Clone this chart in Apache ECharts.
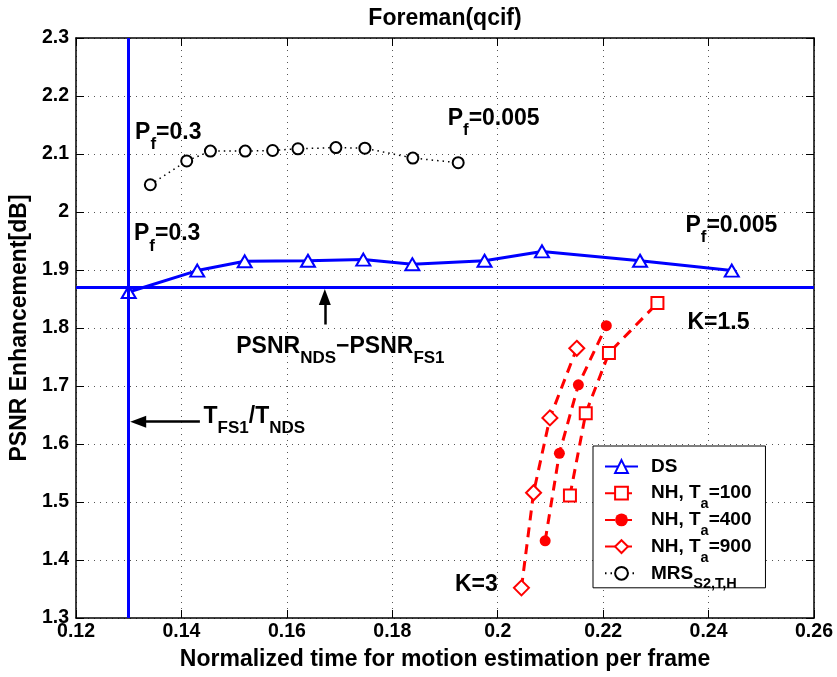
<!DOCTYPE html>
<html><head><meta charset="utf-8">
<script src="https://cdn.jsdelivr.net/npm/echarts@6/dist/echarts.min.js"></script>
<style>html,body{margin:0;padding:0;background:#fff}#c{width:837px;height:677px}</style>
</head><body><div id="c"></div>
<script>
// ---- data ----
const xTicks = [0.12, 0.14, 0.16, 0.18, 0.20, 0.22, 0.24, 0.26];
const yTicks = [1.3, 1.4, 1.5, 1.6, 1.7, 1.8, 1.9, 2.0, 2.1, 2.2, 2.3];
const chartTitle = 'Foreman(qcif)';
const xName = 'Normalized time for motion estimation per frame';
const yName = 'PSNR Enhancement[dB]';
const seriesNames = ['DS', 'NH, Ta=100', 'NH, Ta=400', 'NH, Ta=900', 'MRS S2,T,H'];
const legendLabels = ['{m|DS}{s| }', '{m|NH, T}{s|a}{m|=100}', '{m|NH, T}{s|a}{m|=400}', '{m|NH, T}{s|a}{m|=900}', '{m|MRS}{s|S2,T,H}'];

const dsX = [0.1300, 0.1430, 0.1520, 0.1640, 0.1745, 0.1838, 0.1975, 0.2084, 0.2270, 0.2444];
const dsY = [1.862, 1.899, 1.915, 1.916, 1.918, 1.910, 1.916, 1.932, 1.916, 1.899];

const nh100X = [0.2137, 0.2167, 0.2211, 0.2303];
const nh100Y = [1.511, 1.653, 1.757, 1.843];
const nh400X = [0.2090, 0.2117, 0.2153, 0.2206];
const nh400Y = [1.433, 1.584, 1.702, 1.804];
const nh900X = [0.2045, 0.2068, 0.2099, 0.2150];
const nh900Y = [1.352, 1.516, 1.645, 1.765];

const mrsX = [0.1341, 0.1410, 0.1455, 0.1521, 0.1573, 0.1621, 0.1693, 0.1748, 0.1839, 0.1925];
const mrsY = [2.047, 2.088, 2.105, 2.105, 2.106, 2.109, 2.111, 2.110, 2.093, 2.085];

const refX = 0.13;   // T_FS1/T_NDS
const refY = 1.87;   // PSNR_NDS - PSNR_FS1
const arrowUp = [[0.1672, 1.806], [0.1672, 1.8535]];
const arrowLeft = [[0.1435, 1.6385], [0.1318, 1.6385]];

const notes = [
  {text: '{m|P}{s|f}{m|=0.3}', x: 0.1312, y: 2.137},
  {text: '{m|P}{s|f}{m|=0.005}', x: 0.1905, y: 2.161},
  {text: '{m|P}{s|f}{m|=0.3}', x: 0.1310, y: 1.962},
  {text: '{m|P}{s|f}{m|=0.005}', x: 0.2356, y: 1.977},
  {text: '{m|K=1.5}', x: 0.2360, y: 1.810},
  {text: '{m|K=3}', x: 0.2000, y: 1.358, align: 'right'},
  {text: '{m|PSNR}{s|NDS}{m|\u2212PSNR}{s|FS1}', x: 0.1504, y: 1.768},
  {text: '{m|T}{s|FS1}{m|/T}{s|NDS}', x: 0.1442, y: 1.6475}
];

// ---- helpers ----
const zip = (xs, ys) => xs.map((x, i) => [x, ys[i]]);
const FONT = '"Liberation Sans", Arial, Helvetica, sans-serif';
const fmt = v => String(+(+v).toFixed(2));
const xInt = +(xTicks[1] - xTicks[0]).toFixed(4);
const yInt = +(yTicks[1] - yTicks[0]).toFixed(4);

const chart = echarts.init(document.getElementById('c'));

const gridDots = {show: true, lineStyle: {color: '#555', width: 1, type: [1, 5]}};
const tick = {show: true, inside: true, length: 8, lineStyle: {color: '#000', width: 1}};
const frame = {show: true, onZero: false, lineStyle: {color: '#000', width: 1.5}};
const tickLabel = {color: '#000', fontSize: 19.5, fontWeight: 'bold', fontFamily: FONT, formatter: fmt};
const nameStyle = {color: '#000', fontSize: 23, fontWeight: 'bold', fontFamily: FONT};

const option = {
  animation: false,
  backgroundColor: '#fff',
  grid: {left: 72, right: 23, top: 38, bottom: 59, containLabel: false},
  xAxis: [
    {type: 'value', min: xTicks[0], max: xTicks[xTicks.length - 1], interval: xInt, position: 'bottom',
     axisLine: frame, axisTick: tick, splitLine: gridDots, axisLabel: Object.assign({margin: 4}, tickLabel),
     name: xName, nameLocation: 'middle', nameGap: 30, nameTextStyle: nameStyle},
    {type: 'value', min: xTicks[0], max: xTicks[xTicks.length - 1], interval: xInt, position: 'top',
     axisLine: frame, axisTick: tick, splitLine: {show: false}, axisLabel: {show: false}}
  ],
  yAxis: [
    {type: 'value', min: yTicks[0], max: yTicks[yTicks.length - 1], interval: yInt, position: 'left',
     axisLine: frame, axisTick: tick, splitLine: gridDots, axisLabel: Object.assign({margin: 7}, tickLabel),
     name: yName, nameLocation: 'middle', nameGap: 34, nameTextStyle: nameStyle},
    {type: 'value', min: yTicks[0], max: yTicks[yTicks.length - 1], interval: yInt, position: 'right',
     axisLine: frame, axisTick: tick, splitLine: {show: false}, axisLabel: {show: false}}
  ],
  legend: {
    data: seriesNames,
    orient: 'vertical', left: 593, top: 446,
    padding: [2, 14, -4, 11], itemGap: -10.3, itemWidth: 33, itemHeight: 16,
    backgroundColor: '#fff', borderColor: '#000', borderWidth: 1, borderRadius: 0,
    selectedMode: false,
    formatter: name => legendLabels[seriesNames.indexOf(name)],
    textStyle: {
      padding: [0, 0, 0, 8],
      rich: {
        m: {fontSize: 19, fontWeight: 'bold', fontFamily: FONT, color: '#000', lineHeight: 26},
        s: {fontSize: 14.5, fontWeight: 'bold', fontFamily: FONT, color: '#000', lineHeight: 6, padding: [22, 0, 0, 0]}
      }
    }
  },
  series: [
    {name: 'refs', type: 'line', data: [], silent: true, z: 1,
     markLine: {silent: true, symbol: ['none', 'none'], label: {show: false}, animation: false,
       lineStyle: {color: '#0000ff', width: 3, type: 'solid'},
       data: [{xAxis: refX}, {yAxis: refY}]}},
    {name: 'arrows', type: 'line', data: [], silent: true, z: 1,
     markLine: {silent: true, symbol: ['none', 'triangle'], symbolSize: [12, 16], label: {show: false}, animation: false,
       lineStyle: {color: '#000', width: 2.5, type: 'solid'},
       data: [[{coord: arrowUp[0]}, {coord: arrowUp[1]}], [{coord: arrowLeft[0]}, {coord: arrowLeft[1]}]]}},
    {name: seriesNames[0], type: 'line', data: zip(dsX, dsY), z: 3,
     symbol: 'emptyTriangle', symbolSize: [14, 12],
     lineStyle: {color: '#0000ff', width: 3},
     itemStyle: {color: '#0000ff', borderColor: '#0000ff', borderWidth: 2.5}},
    {name: seriesNames[1], type: 'line', data: zip(nh100X, nh100Y), z: 3,
     symbol: 'emptyRect', symbolSize: 12,
     lineStyle: {color: '#ff0000', width: 3, type: [10, 7]},
     itemStyle: {color: '#ff0000', borderColor: '#ff0000', borderWidth: 2.5}},
    {name: seriesNames[2], type: 'line', data: zip(nh400X, nh400Y), z: 3,
     symbol: 'circle', symbolSize: 11,
     lineStyle: {color: '#ff0000', width: 3, type: [10, 7]},
     itemStyle: {color: '#ff0000'}},
    {name: seriesNames[3], type: 'line', data: zip(nh900X, nh900Y), z: 3,
     symbol: 'emptyDiamond', symbolSize: 15,
     lineStyle: {color: '#ff0000', width: 3, type: [10, 7]},
     itemStyle: {color: '#ff0000', borderColor: '#ff0000', borderWidth: 2.5}},
    {name: seriesNames[4], type: 'line', data: zip(mrsX, mrsY), z: 3,
     symbol: 'emptyCircle', symbolSize: 11,
     lineStyle: {color: '#000', width: 1.5, type: [1.5, 4]},
     itemStyle: {color: '#000', borderColor: '#000', borderWidth: 2.5}}
  ]
};
chart.setOption(option);

// annotations placed in data coordinates
const annRich = {
  m: {fontSize: 23, fontWeight: 'bold', fontFamily: FONT, fill: '#000', lineHeight: 36},
  s: {fontSize: 17, fontWeight: 'bold', fontFamily: FONT, fill: '#000', padding: [24, 0, 0, 0]},
  t: {fontSize: 23, fontWeight: 'bold', fontFamily: FONT, fill: '#000'}
};
const g = notes.map(n => {
  const p = chart.convertToPixel({gridIndex: 0}, [n.x, n.y]);
  return {type: 'text', x: p[0], y: p[1], silent: true, z: 10,
    style: {text: n.text, rich: annRich, align: n.align || 'left', verticalAlign: 'middle', fill: '#000'}};
});
const pL = chart.convertToPixel({gridIndex: 0}, [xTicks[0], yTicks[yTicks.length - 1]]);
const pR = chart.convertToPixel({gridIndex: 0}, [xTicks[xTicks.length - 1], yTicks[yTicks.length - 1]]);
g.push({type: 'text', x: (pL[0] + pR[0]) / 2, y: 19, silent: true,
  style: {text: '{t|' + chartTitle + '}', rich: annRich, align: 'center', verticalAlign: 'middle', fill: '#000'}});
chart.setOption({graphic: g});
</script></body></html>
